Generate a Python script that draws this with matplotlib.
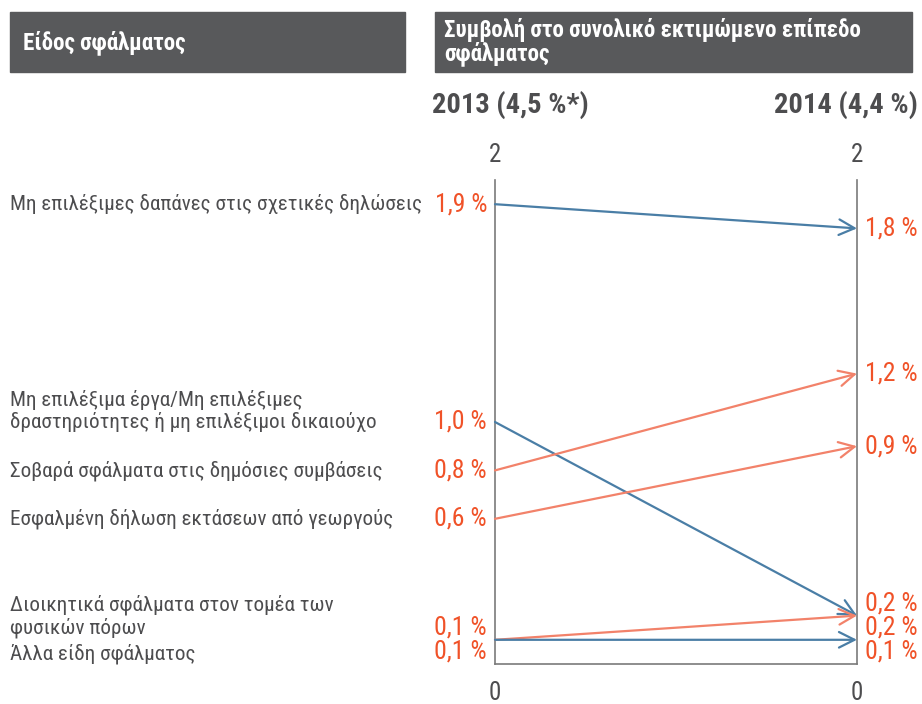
import matplotlib
matplotlib.use("Agg")
import matplotlib.pyplot as plt
from matplotlib import font_manager
from matplotlib.patches import Rectangle

# --- data ---
categories = [
    "Μη επιλέξιμες δαπάνες στις σχετικές δηλώσεις",
    "Μη επιλέξιμα έργα/Μη επιλέξιμες\nδραστηριότητες ή μη επιλέξιμοι δικαιούχο",
    "Σοβαρά σφάλματα στις δημόσιες συμβάσεις",
    "Εσφαλμένη δήλωση εκτάσεων από γεωργούς",
    "Διοικητικά σφάλματα στον τομέα των\nφυσικών πόρων",
    "Άλλα είδη σφάλματος",
]
v2013 = [1.9, 1.0, 0.8, 0.6, 0.1, 0.1]
v2014 = [1.8, 0.2, 1.2, 0.9, 0.2, 0.1]
year_labels = ["2013 (4,5 %*)", "2014 (4,4 %)"]
header_left = "Είδος σφάλματος"
header_right = "Συμβολή στο συνολικό εκτιμώμενο επίπεδο\nσφάλματος"
y_min, y_max = 0, 2

BLUE = "#4a7ea6"
ORANGE = "#f2826a"
LABEL_RED = "#f05228"
TEXT = "#4d4d4f"
BOX = "#58595b"

# pick a condensed font if one is there
FONT = "DejaVu Sans"
for name in ["Liberation Sans Narrow", "Roboto Condensed", "Open Sans Condensed", "Noto Sans"]:
    try:
        font_manager.findfont(font_manager.FontProperties(family=name), fallback_to_default=False)
        FONT = name
        break
    except ValueError:
        pass
plt.rcParams["font.family"] = [FONT, "DejaVu Sans"]


def spread(values, gap=0.1):
    # push equal/close labels apart, cluster centred on its own midpoint
    order = sorted(range(len(values)), key=lambda i: -values[i])
    pos = {}
    groups = [[order[0]]]
    for i in order[1:]:
        if values[groups[-1][-1]] - values[i] < gap * 1.01:
            groups[-1].append(i)
        else:
            groups.append([i])
    for g in groups:
        mid = (values[g[0]] + values[g[-1]]) / 2
        top = mid + gap * (len(g) - 1) / 2
        for k, i in enumerate(g):
            pos[i] = top - k * gap
    return [pos[i] for i in range(len(values))]


W, H = 922, 704
fig = plt.figure(figsize=(W / 100, H / 100), dpi=100)
ax = fig.add_axes([495 / W, (H - 664) / H, 362 / W, 484 / H])
ax.set_xlim(0, 1)
ax.set_ylim(y_min, y_max)
ax.set_xticks([])
ax.set_yticks([])
ax.spines["top"].set_visible(False)
for s in ["left", "right", "bottom"]:
    ax.spines[s].set_color("#7a7a7a")
    ax.spines[s].set_linewidth(1.2)

for a, b in zip(v2013, v2014):
    col = ORANGE if b > a else BLUE
    ax.annotate("", xy=(1, b), xytext=(0, a),
                arrowprops=dict(arrowstyle="->", color=col, lw=1.6,
                                mutation_scale=28, shrinkA=0, shrinkB=0))

left_pos = spread(v2013)
right_pos = spread(v2014)
for cat, a, b, ya, yb in zip(categories, v2013, v2014, left_pos, right_pos):
    ax.text(-0.022, ya, f"{a:.1f} %".replace(".", ","), ha="right", va="center",
            color=LABEL_RED, fontsize=18.5, clip_on=False)
    ax.text(1.022, yb, f"{b:.1f} %".replace(".", ","), ha="left", va="center",
            color=LABEL_RED, fontsize=18.5, clip_on=False)
    nlines = cat.count("\n")
    ax.annotate(cat, xy=(0, ya), xycoords="data",
                xytext=(10, 8 * nlines - 1.5 * (nlines == 0 and ya < 0.1)),
                textcoords=("figure pixels", "offset points"),
                ha="left", va="center", color=TEXT, fontsize=15.2,
                linespacing=1.15, annotation_clip=False)

# axis end labels
for x in (0, 1):
    ax.annotate(str(y_max), xy=(x, y_max), xytext=(0, 18), textcoords="offset points",
                ha="center", va="center", color=TEXT, fontsize=18, annotation_clip=False)
    ax.annotate(str(y_min), xy=(x, y_min), xytext=(0, -21), textcoords="offset points",
                ha="center", va="center", color=TEXT, fontsize=18, annotation_clip=False)

# year headers
fig.text(510 / W, 1 - 105 / H, year_labels[0], ha="center", va="center",
         fontsize=20.5, fontweight="bold", color=TEXT)
fig.text(918 / W, 1 - 105 / H, year_labels[1], ha="right", va="center",
         fontsize=20.5, fontweight="bold", color=TEXT)

# header boxes
fig.patches.append(Rectangle((10 / W, 1 - 72 / H), 395 / W, 60 / H,
                             transform=fig.transFigure, color=BOX))
fig.patches.append(Rectangle((435 / W, 1 - 72 / H), 477 / W, 60 / H,
                             transform=fig.transFigure, color=BOX))
fig.text(23 / W, 1 - 43 / H, header_left, ha="left", va="center",
         fontsize=16.6, fontweight="bold", color="white")
fig.text(444 / W, 1 - 42 / H, header_right, ha="left", va="center",
         fontsize=16.6, fontweight="bold", color="white", linespacing=1.0)

fig.savefig("out.png", dpi=100)
